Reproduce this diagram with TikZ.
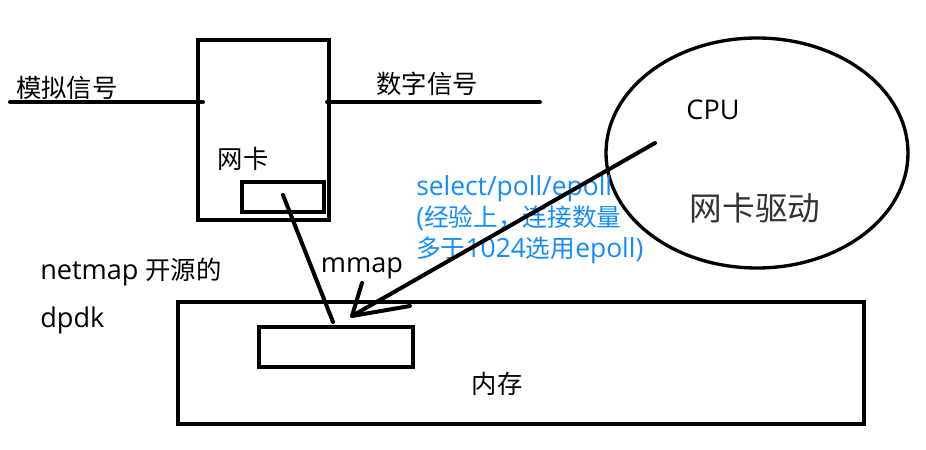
\documentclass[tikz,border=0pt]{standalone}
\usepackage{fontspec}
\setmainfont{Open Sans}[Scale=1.07]
\newfontfamily\cjk{Noto Sans CJK SC}
\usetikzlibrary{shapes.geometric}
\definecolor{noteblue}{RGB}{20,140,255}
\begin{document}
\begin{tikzpicture}[x=0.75pt,y=-0.75pt,
  thick line/.style={line width=3pt,line cap=round,line join=round},
  box/.style={draw,line width=3pt,inner sep=0pt},
  txt/.style={inner sep=0pt,font=\fontsize{19}{22}\selectfont},
  bigtxt/.style={inner sep=0pt,text=black!80,font=\fontsize{24.5}{28}\selectfont},
  note/.style={inner sep=0pt,align=left,text=noteblue,font=\fontsize{18.5}{23.5}\selectfont}]
\useasboundingbox (0,0) rectangle (926,450);
% NIC box
\node[box,minimum width={131*0.75pt},minimum height={180*0.75pt},anchor=north west] (nic) at (196,38) {};
\node[box,minimum width={82*0.75pt},minimum height={30*0.75pt},anchor=north west] (nicbuf) at (240,180) {};
\node[txt] (niclbl) at (243,159) {\cjk 网卡};
% signal lines
\coordinate (la) at (10,102);
\coordinate (lb) at (203,102);
\coordinate (ra) at (327,102);
\coordinate (rb) at (540,102);
\draw[thick line] (la) -- (lb);
\draw[thick line] (ra) -- (rb);
\node[txt] (analog) at (67,88) {\cjk 模拟信号};
\node[txt] (digital) at (427,84) {\cjk 数字信号};
% CPU ellipse
\node[ellipse,draw,line width=2.5pt,minimum width={302*0.75pt},minimum height={230*0.75pt},inner sep=0pt] (cpu) at (757,153) {};
\node[txt] (cpulbl) at (713,110) {CPU};
\node[bigtxt] (drv) at (755,208) {\cjk 网卡驱动};
% memory
\node[box,minimum width={686*0.75pt},minimum height={122*0.75pt},anchor=north west] (mem) at (176,300) {};
\node[box,minimum width={154*0.75pt},minimum height={40*0.75pt},anchor=north west] (membuf) at (257,325) {};
\node[txt] (memlbl) at (497,384) {\cjk 内存};
% texts
\node[txt,anchor=west] (netmap) at (40,272) {netmap {\cjk 开源的}};
\node[txt,anchor=west] (dpdk) at (40,320) {dpdk};
\node[txt] (mmap) at (362,268) {mmap};
\node[note,anchor=north west] (sel) at (416,175) {select/poll/epoll\\({\cjk 经验上，连接数量}\\{\cjk 多于}1024{\cjk 选用}epoll)};
% hand-drawn connectors
\coordinate (nicp) at (283,195);
\coordinate (memp) at (333,322);
\draw[thick line] (nicp) -- (memp);
\coordinate (cpup) at (655,143);
\coordinate (tip) at (352,316);
\coordinate (barbA) at (362,283);
\coordinate (barbB) at (410,306);
\draw[thick line] (cpup) -- (tip);
\draw[thick line] (barbA) -- (tip) -- (barbB);
\end{tikzpicture}
\end{document}
